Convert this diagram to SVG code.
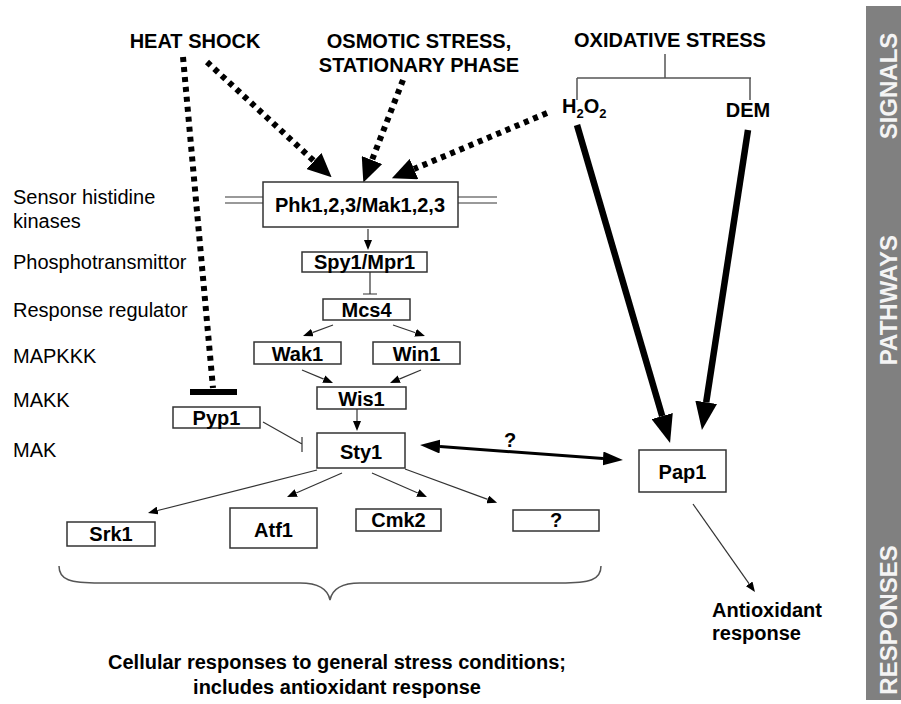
<svg xmlns="http://www.w3.org/2000/svg" width="901" height="704" viewBox="0 0 901 704">
<style>
text{font-family:"Liberation Sans",Arial,sans-serif;font-size:20px;fill:#000}
.b{font-weight:bold}
.c{text-anchor:middle}
.box{fill:#fff;stroke:#333;stroke-width:1.5}
.thin{stroke:#333;stroke-width:1.2;fill:none}
.gray{stroke:#555;stroke-width:1.5;fill:none}
.dot{stroke:#000;stroke-width:6;stroke-dasharray:5 5;fill:none}
.thick{stroke:#000;stroke-width:6.5;fill:none}
.side{fill:#f4f4f4;font-weight:bold;font-size:24px;text-anchor:middle}
</style>
<defs>
<marker id="big" viewBox="0 0 24 22" refX="0" refY="11" markerWidth="24" markerHeight="22" markerUnits="userSpaceOnUse" orient="auto"><path d="M0,0 L24,11 L0,22 z" fill="#000"/></marker>
<marker id="thk" viewBox="0 0 28 22" refX="0" refY="11" markerWidth="28" markerHeight="22" markerUnits="userSpaceOnUse" orient="auto"><path d="M0,0 L28,11 L0,22 z" fill="#000"/></marker>
<marker id="med" viewBox="0 0 20 14" refX="0" refY="7" markerWidth="20" markerHeight="14" markerUnits="userSpaceOnUse" orient="auto-start-reverse"><path d="M0,0 L20,7 L0,14 z" fill="#000"/></marker>
<marker id="sm" viewBox="0 0 10 8" refX="0" refY="4" markerWidth="10" markerHeight="8" markerUnits="userSpaceOnUse" orient="auto"><path d="M0,0 L10,4 L0,8 z" fill="#000"/></marker>
</defs>
<rect width="901" height="704" fill="#fff"/>

<g id="sidebar">
<rect x="866" y="6" width="35" height="694" fill="#808080"/>
<text class="side" transform="translate(897,86) rotate(-90)">SIGNALS</text>
<text class="side" transform="translate(897,300) rotate(-90)">PATHWAYS</text>
<text class="side" transform="translate(897,620) rotate(-90)">RESPONSES</text>
</g>

<g id="level-labels">
<text x="13" y="204">Sensor histidine</text>
<text x="13" y="228">kinases</text>
<text x="13" y="269">Phosphotransmittor</text>
<text x="13" y="317">Response regulator</text>
<text x="13" y="363">MAPKKK</text>
<text x="13" y="407">MAKK</text>
<text x="13" y="457">MAK</text>
</g>

<g id="connectors">
<g stroke="#777" stroke-width="1.5">
<line x1="225" y1="197" x2="263" y2="197"/><line x1="225" y1="203" x2="263" y2="203"/>
<line x1="458" y1="197" x2="497" y2="197"/><line x1="458" y1="203" x2="497" y2="203"/>
</g>
<path class="gray" d="M665,54 V78 M577,78 H751 M577,78 V100 M750,78 V100"/>
<line class="dot" x1="207" y1="62" x2="314" y2="161" marker-end="url(#big)"/>
<line class="dot" x1="403" y1="80" x2="372" y2="160" marker-end="url(#big)"/>
<line class="dot" x1="547" y1="113" x2="414" y2="169" marker-end="url(#big)"/>
<line class="dot" x1="183" y1="57" x2="213" y2="388"/>
<line x1="190" y1="392" x2="237" y2="392" stroke="#000" stroke-width="6"/>
<line class="thick" x1="577" y1="125" x2="662.2" y2="416.1" marker-end="url(#thk)"/>
<line class="thick" x1="748" y1="130" x2="706.2" y2="402.3" marker-end="url(#thk)"/>
<line x1="440" y1="446.5" x2="603" y2="458.5" stroke="#000" stroke-width="3" marker-start="url(#med)" marker-end="url(#med)"/>
<line class="thin" x1="368" y1="229" x2="368" y2="240" marker-end="url(#sm)"/>
<path class="thin" d="M370,272 V294 M363,294 H377"/>
<line class="thin" x1="333" y1="325" x2="312.4" y2="332.6" marker-end="url(#sm)"/>
<line class="thin" x1="393" y1="325" x2="415.5" y2="332.7" marker-end="url(#sm)"/>
<line class="thin" x1="302" y1="370" x2="323.8" y2="379.1" marker-end="url(#sm)"/>
<line class="thin" x1="421" y1="370" x2="399.2" y2="379.1" marker-end="url(#sm)"/>
<line class="thin" x1="357" y1="409" x2="357" y2="421" marker-end="url(#sm)"/>
<path class="thin" d="M263,422 L302,444 M302,437 V452"/>
<line class="thin" x1="317" y1="470" x2="157.7" y2="510.5" marker-end="url(#sm)"/>
<line class="thin" x1="342" y1="473" x2="296.2" y2="493" marker-end="url(#sm)"/>
<line class="thin" x1="372" y1="473" x2="417.8" y2="493" marker-end="url(#sm)"/>
<line class="thin" x1="405" y1="469" x2="487.7" y2="499.4" marker-end="url(#sm)"/>
<line class="thin" x1="693" y1="504" x2="749.2" y2="583.8" marker-end="url(#sm)"/>
<path class="gray" stroke-width="1.2" d="M59,566 C59,580 70,583 100,583 L300,583 C320,583 328,590 330,600 C332,590 340,583 360,583 L560,583 C590,583 601,580 601,566"/>
</g>

<g id="signals">
<text class="b c" x="195" y="48">HEAT SHOCK</text>
<text class="b c" x="419" y="48">OSMOTIC STRESS,</text>
<text class="b c" x="419" y="72">STATIONARY PHASE</text>
<text class="b c" x="670" y="47">OXIDATIVE STRESS</text>
</g>
<g id="h2o2"><text class="b" x="562" y="113">H<tspan font-size="13" dy="5">2</tspan><tspan dy="-5">O</tspan><tspan font-size="13" dy="5">2</tspan></text></g>
<g id="dem"><text class="b c" x="748" y="117">DEM</text></g>

<g id="phk"><rect class="box" x="263" y="182" width="195" height="45"/><text class="b c" x="360" y="212">Phk1,2,3/Mak1,2,3</text></g>
<g id="spy1"><rect class="box" x="302" y="252" width="125" height="20"/><text class="b c" x="364.5" y="269">Spy1/Mpr1</text></g>
<g id="mcs4"><rect class="box" x="323" y="299" width="87" height="21"/><text class="b c" x="366.5" y="317">Mcs4</text></g>
<g id="wak1"><rect class="box" x="254" y="342" width="87" height="22"/><text class="b c" x="297.5" y="361">Wak1</text></g>
<g id="win1"><rect class="box" x="373" y="342" width="87" height="22"/><text class="b c" x="416.5" y="361">Win1</text></g>
<g id="wis1"><rect class="box" x="317" y="387" width="89" height="22"/><text class="b c" x="361.5" y="406">Wis1</text></g>
<g id="pyp1"><rect class="box" x="173" y="407" width="87" height="21"/><text class="b c" x="216.5" y="425">Pyp1</text></g>
<g id="sty1"><rect class="box" x="317" y="433" width="88" height="35"/><text class="b c" x="361" y="459" font-size="26">Sty1</text></g>
<g id="q-label"><text class="b c" x="510" y="447" font-size="26">?</text></g>
<g id="pap1"><rect class="box" x="639" y="450" width="87" height="42"/><text class="b c" x="682.5" y="479" font-size="25">Pap1</text></g>
<g id="srk1"><rect class="box" x="67" y="522" width="88" height="24"/><text class="b c" x="111" y="541" font-size="19">Srk1</text></g>
<g id="atf1"><rect class="box" x="230" y="508" width="87" height="40"/><text class="b c" x="273.5" y="537" font-size="25">Atf1</text></g>
<g id="cmk2"><rect class="box" x="356" y="509" width="85" height="22"/><text class="b c" x="398.5" y="527" font-size="18">Cmk2</text></g>
<g id="unknown"><rect class="box" x="513" y="510" width="86" height="21"/><text class="b c" x="556" y="527" font-size="18">?</text></g>

<g id="responses">
<text class="b c" x="337" y="669">Cellular responses to general stress conditions;</text>
<text class="b c" x="337" y="694">includes antioxidant response</text>
<text class="b" x="712" y="617">Antioxidant</text>
<text class="b" x="712" y="640">response</text>
</g>
</svg>
